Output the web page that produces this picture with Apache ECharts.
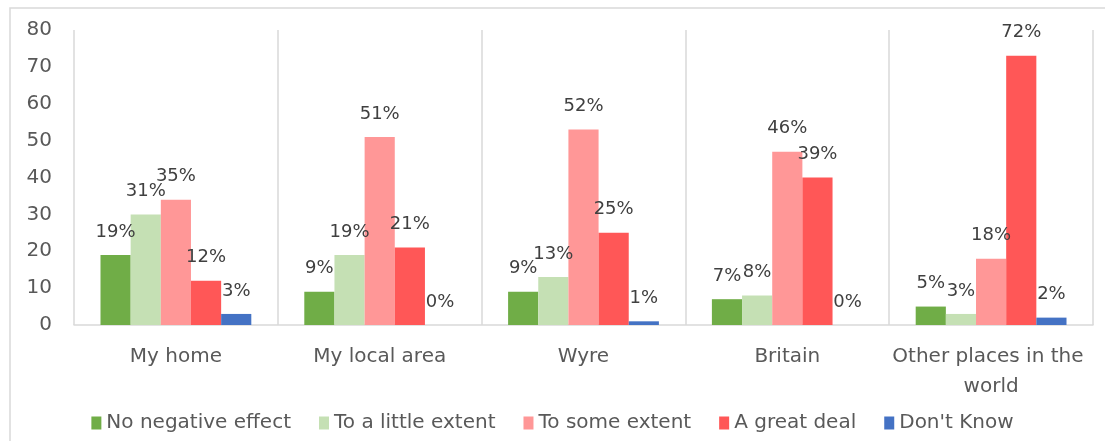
<!DOCTYPE html>
<html>
<head>
<meta charset="utf-8">
<script src="https://cdn.jsdelivr.net/npm/echarts@6/dist/echarts.min.js"></script>
<style>html,body{margin:0;padding:0;background:#fff}#c{width:1105px;height:441px}</style>
</head>
<body>
<div id="c"></div>
<script>
var categories = ['My home', 'My local area', 'Wyre', 'Britain', 'Other places in the world'];
var seriesNames = ['No negative effect', 'To a little extent', 'To some extent', 'A great deal', "Don't Know"];
var colors = ['#70AD47', '#C5E0B4', '#FF9797', '#FF5757', '#4472C4'];
var noNegative = [19, 9, 9, 7, 5];
var littleExtent = [30, 19, 13, 8, 3];
var someExtent = [34, 51, 53, 47, 18];
var greatDeal = [12, 21, 25, 40, 73];
var dontKnow = [3, 0, 1, 0, 2];
var noNegativeLabels = ['19%', '9%', '9%', '7%', '5%'];
var littleExtentLabels = ['31%', '19%', '13%', '8%', '3%'];
var someExtentLabels = ['35%', '51%', '52%', '46%', '18%'];
var greatDealLabels = ['12%', '21%', '25%', '39%', '72%'];
var dontKnowLabels = ['3%', '0%', '1%', '0%', '2%'];
var yTicks = [0, 10, 20, 30, 40, 50, 60, 70, 80];

var values = [noNegative, littleExtent, someExtent, greatDeal, dontKnow];
var labels = [noNegativeLabels, littleExtentLabels, someExtentLabels, greatDealLabels, dontKnowLabels];
var font = 'DejaVu Sans';

var series = seriesNames.map(function (name, i) {
  return {
    name: name,
    type: 'bar',
    data: values[i],
    barGap: '0%',
    barCategoryGap: '26%',
    itemStyle: { color: colors[i] },
    label: {
      show: true,
      position: 'top',
      distance: 14,
      fontFamily: font,
      fontSize: 18,
      color: '#404040',
      formatter: (function (arr) { return function (p) { return arr[p.dataIndex]; }; })(labels[i])
    }
  };
});

var chart = echarts.init(document.getElementById('c'));
chart.setOption({
  animation: false,
  backgroundColor: '#fff',
  graphic: [{
    type: 'rect',
    shape: { x: 10, y: 8, width: 1200, height: 500 },
    style: { fill: 'none', stroke: '#d9d9d9', lineWidth: 1.5 },
    z: -1
  }],
  grid: { left: 74, right: 12, top: 30, bottom: 116 },
  legend: {
    bottom: 3,
    left: 'center',
    itemWidth: 10,
    itemHeight: 13,
    itemGap: 28,
    icon: 'rect',
    textStyle: { fontFamily: font, fontSize: 20, color: '#595959' },
    data: seriesNames
  },
  xAxis: {
    type: 'category',
    data: categories,
    axisTick: { show: false },
    axisLine: { lineStyle: { color: '#d9d9d9', width: 1.5 } },
    splitLine: { show: true, lineStyle: { color: '#d9d9d9', width: 1.5 } },
    axisLabel: {
      fontFamily: font,
      fontSize: 20,
      color: '#595959',
      margin: 17,
      lineHeight: 30,
      width: 200,
      overflow: 'break',
      interval: 0
    }
  },
  yAxis: {
    type: 'value',
    min: 0,
    max: 80,
    interval: 10,
    axisLine: { show: false },
    axisTick: { show: false },
    splitLine: { show: false },
    axisLabel: {
      fontFamily: font,
      fontSize: 20,
      color: '#595959',
      margin: 22,
      formatter: function (v) { return yTicks.indexOf(v) >= 0 ? String(v) : ''; }
    }
  },
  series: series
});
</script>
</body>
</html>
